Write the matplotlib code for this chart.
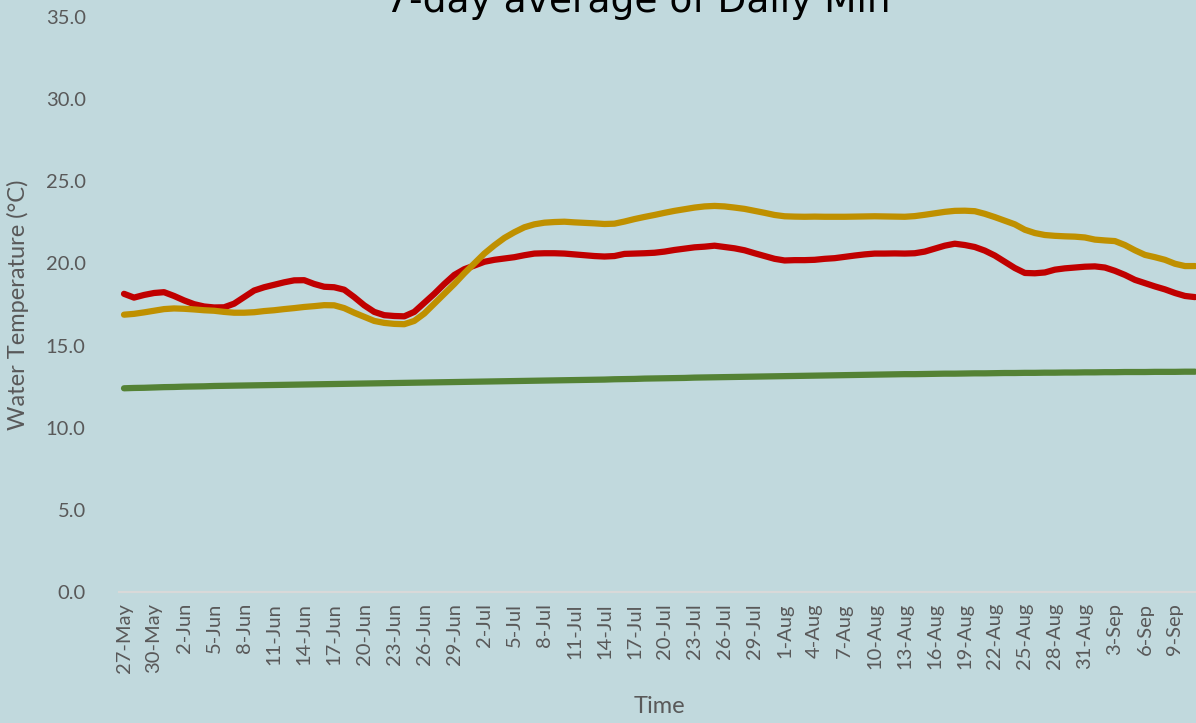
import matplotlib
matplotlib.use("Agg")
import matplotlib.pyplot as plt
import numpy as np
import pandas as pd

# one value per day, 27-May .. 11-Sep
days = pd.date_range("2021-05-27", periods=108, freq="D")

red_min = [
    18.15, 17.92, 18.08, 18.20, 18.25, 18.02, 17.75, 17.52, 17.38, 17.32,
    17.33, 17.55, 17.95, 18.35, 18.55, 18.70, 18.85, 18.97, 18.98, 18.75,
    18.58, 18.55, 18.40, 17.95, 17.45, 17.05, 16.85, 16.80, 16.78, 17.05,
    17.60, 18.15, 18.75, 19.30, 19.65, 19.87, 20.10, 20.22, 20.30, 20.38,
    20.50, 20.60, 20.62, 20.62, 20.60, 20.55, 20.50, 20.45, 20.42, 20.45,
    20.58, 20.60, 20.62, 20.65, 20.72, 20.82, 20.90, 20.98, 21.02, 21.08,
    21.00, 20.92, 20.80, 20.62, 20.45, 20.28, 20.18, 20.20, 20.20, 20.22,
    20.28, 20.32, 20.40, 20.48, 20.55, 20.60, 20.60, 20.61, 20.60, 20.62,
    20.72, 20.90, 21.08, 21.20, 21.12, 21.00, 20.78, 20.48, 20.10, 19.72,
    19.42, 19.40, 19.45, 19.62, 19.70, 19.75, 19.80, 19.82, 19.75, 19.55,
    19.30, 19.00, 18.80, 18.60, 18.42, 18.20, 18.02, 17.95,
]

gold_min = [
    16.88, 16.93, 17.02, 17.12, 17.22, 17.26, 17.24, 17.20, 17.15, 17.12,
    17.05, 17.00, 17.00, 17.03, 17.10, 17.15, 17.22, 17.28, 17.35, 17.40,
    17.46, 17.45, 17.28, 17.00, 16.75, 16.50, 16.38, 16.32, 16.30, 16.50,
    16.95, 17.55, 18.15, 18.75, 19.40, 20.00, 20.60, 21.10, 21.55, 21.90,
    22.20, 22.38, 22.48, 22.52, 22.54, 22.50, 22.47, 22.44, 22.40, 22.42,
    22.55, 22.70, 22.83, 22.95, 23.08, 23.20, 23.30, 23.40, 23.47, 23.50,
    23.47, 23.40, 23.32, 23.20, 23.08, 22.95, 22.87, 22.85, 22.84, 22.85,
    22.84, 22.84, 22.84, 22.85, 22.86, 22.87, 22.86, 22.85, 22.84, 22.88,
    22.96, 23.05, 23.14, 23.20, 23.21, 23.18, 23.02, 22.82, 22.60, 22.38,
    22.05, 21.85, 21.73, 21.68, 21.65, 21.63, 21.58, 21.45, 21.40, 21.36,
    21.12, 20.80, 20.52, 20.38, 20.22, 19.98, 19.84, 19.84,
]

green_min = [
    12.40, 12.42, 12.43, 12.45, 12.47, 12.48, 12.50, 12.51, 12.52, 12.54,
    12.55, 12.56, 12.57, 12.58, 12.59, 12.60, 12.61, 12.62, 12.63, 12.64,
    12.65, 12.66, 12.67, 12.68, 12.69, 12.70, 12.71, 12.72, 12.73, 12.74,
    12.75, 12.76, 12.77, 12.78, 12.79, 12.80, 12.81, 12.82, 12.83, 12.84,
    12.85, 12.86, 12.87, 12.88, 12.89, 12.90, 12.91, 12.92, 12.93, 12.95,
    12.96, 12.97, 12.99, 13.00, 13.01, 13.02, 13.03, 13.05, 13.06, 13.07,
    13.08, 13.09, 13.10, 13.11, 13.12, 13.13, 13.14, 13.15, 13.16, 13.17,
    13.18, 13.19, 13.20, 13.21, 13.22, 13.23, 13.24, 13.25, 13.26, 13.26,
    13.27, 13.28, 13.29, 13.29, 13.30, 13.31, 13.31, 13.32, 13.33, 13.33,
    13.34, 13.34, 13.35, 13.35, 13.36, 13.36, 13.37, 13.37, 13.38, 13.38,
    13.39, 13.39, 13.39, 13.40, 13.40, 13.40, 13.41, 13.41,
]

BG = "#c1d9dd"
TXT = "#595959"

plt.rcParams["font.family"] = ["Lato", "DejaVu Sans"]

fig = plt.figure(figsize=(11.96, 7.23), dpi=100)
fig.patch.set_facecolor(BG)
ax = fig.add_axes([119 / 1196, 131 / 723, 1081 / 1196, 575 / 723])
ax.set_facecolor(BG)

x = np.arange(len(days))
for vals, col in [(green_min, "#548235"), (red_min, "#c00000"), (gold_min, "#bf9000")]:
    ax.plot(x, vals, color=col, lw=4.5, solid_capstyle="round", solid_joinstyle="round")

ax.set_xlim(-0.5, len(days) - 0.5)
ax.set_ylim(0, 35)
ax.set_yticks(np.arange(0, 36, 5))
ax.set_yticklabels([f"{v:.1f}" for v in np.arange(0, 36, 5)])
ticks = x[::3]
ax.set_xticks(ticks)
ax.set_xticklabels([f"{days[i].day}-{days[i].strftime('%b')}" for i in ticks], rotation=90)

ax.tick_params(axis="both", length=0, colors=TXT, labelsize=14.5)
ax.tick_params(axis="y", pad=24)
ax.tick_params(axis="x", pad=8)
for side in ["left", "right", "top"]:
    ax.spines[side].set_visible(False)
ax.spines["bottom"].set_color("#d9d9d9")
ax.spines["bottom"].set_linewidth(1.5)

ax.set_ylabel("Water Temperature (°C)", color=TXT, fontsize=17, labelpad=12)
ax.set_xlabel("Time", color=TXT, fontsize=17)
ax.xaxis.set_label_coords(0.5, -104 / 575)

fig.text(638 / 1196, 1 - 12 / 723, "7-day average of Daily Min", ha="center",
         va="baseline", fontsize=27, color="black", family=["DejaVu Sans"])

fig.savefig("out.png", dpi=100, facecolor=BG)
